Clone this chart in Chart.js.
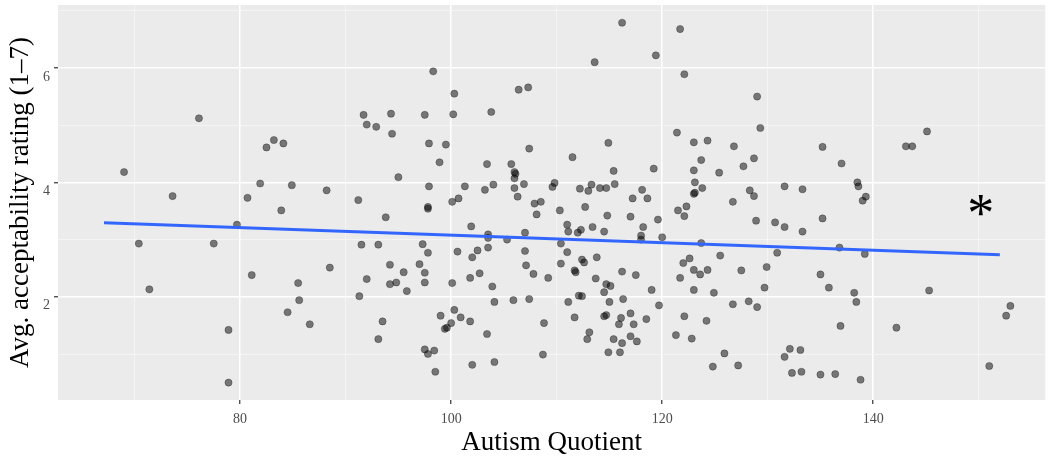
<!DOCTYPE html>
<html>
<head>
<meta charset="utf-8">
<script src="https://cdn.jsdelivr.net/npm/chart.js@4.4.1/dist/chart.umd.min.js"></script>
<style>
  html, body { margin: 0; padding: 0; background: #ffffff; }
  #wrap { width: 1050px; height: 459px; }
</style>
</head>
<body>
<div id="wrap"><canvas id="aqChart" width="1050" height="459"></canvas></div>
<script>
// Autism Quotient (x) and average acceptability rating (y), one entry per participant
const aq = [
  69.0, 76.1, 73.6, 82.5, 83.2, 84.1, 81.9, 84.9, 80.7, 88.2, 83.9, 79.7,
  70.4, 77.5, 71.4, 81.1, 88.5, 85.5, 85.6, 84.5, 86.6, 78.9, 78.9,
  116.2, 121.7, 113.6, 119.4, 122.1, 98.3, 100.3, 106.4, 107.3, 91.7, 94.3, 97.5,
  100.2, 103.8, 92.0, 92.9, 94.4, 97.9, 99.5, 107.4, 114.9, 121.4, 123.0, 111.5,
  98.9, 103.4, 105.7, 106.0, 106.1, 106.0, 95.0, 115.4, 119.2, 123.0, 123.1, 97.9,
  101.3, 104.0, 103.2, 106.0, 106.9, 106.3, 109.8, 109.6, 112.2, 113.0, 113.3, 114.1,
  114.7, 115.5, 118.1, 117.2, 118.6, 123.0, 123.1, 91.2, 93.8, 97.8, 97.8, 100.1,
  100.7, 107.9, 108.5, 108.1, 110.3, 112.7, 114.8, 117.0, 119.6, 121.5, 122.3, 122.1,
  101.9, 111.0, 112.0, 112.3, 113.4, 114.5, 118.2, 107.0, 103.5, 103.5, 105.3, 111.1,
  118.0, 118.0, 120.0, 91.5, 93.1, 97.3, 97.8, 94.2, 92.0, 94.2, 94.8, 95.5,
  95.8, 97.0, 97.5, 97.5, 91.3, 100.6, 102.0, 102.5, 103.5, 102.7, 101.8, 100.1,
  103.9, 104.1, 105.9, 107.4, 107.0, 107.1, 107.8, 109.2, 110.4, 111.0, 110.4, 112.4,
  112.6, 113.8, 111.7, 111.8, 113.7, 114.7, 115.1, 114.5, 112.1, 112.4, 111.1, 115.0,
  116.3, 116.2, 117.5, 119.0, 119.7, 100.3, 99.0, 100.9, 100.0, 99.6, 99.4, 93.5,
  93.1, 101.8, 103.4, 108.8, 111.7, 114.7, 114.5, 116.1, 117.0, 115.9, 117.3, 118.5,
  113.1, 112.9, 115.4, 116.2, 117.0, 117.6, 114.9, 116.0, 97.5, 97.8, 98.4, 98.5,
  102.0, 104.1, 108.7, 121.3, 122.8, 122.1, 121.7, 122.0, 122.6, 123.0, 123.0, 129.0,
  129.3, 124.3, 126.8, 123.7, 125.4, 127.7, 128.7, 123.8, 128.3, 128.7, 126.7, 131.6,
  133.3, 135.2, 137.0, 138.5, 138.6, 139.3, 139.0, 143.1, 143.7, 145.1, 128.9, 130.7,
  131.6, 133.3, 135.2, 123.7, 125.5, 123.6, 124.3, 127.5, 129.9, 130.9, 136.8, 139.2,
  135.0, 135.8, 129.7, 124.9, 138.2, 138.4, 126.7, 128.2, 129.0, 124.2, 136.9, 142.2,
  145.3, 153.0, 152.6, 125.9, 124.8, 127.2, 131.6, 132.1, 133.1, 132.3, 133.2, 135.0,
  136.4, 138.8, 151.0
];
const rating = [
  4.18, 5.12, 3.76, 4.61, 4.74, 4.68, 3.98, 3.95, 3.73, 3.86, 3.51, 3.26,
  2.93, 2.93, 2.13, 2.38, 2.51, 2.24, 1.94, 1.73, 1.52, 1.42, 0.50,
  6.79, 6.68, 6.10, 6.22, 5.89, 5.94, 5.55, 5.62, 5.66, 5.18, 5.20, 5.18,
  5.19, 5.23, 5.01, 4.97, 4.85, 4.68, 4.66, 4.59, 4.69, 4.87, 4.70, 4.44,
  4.35, 4.32, 4.32, 4.18, 4.15, 4.07, 4.09, 4.20, 4.24, 4.21, 4.00, 3.93,
  3.93, 3.96, 3.87, 3.90, 3.97, 3.75, 3.99, 3.92, 3.89, 3.85, 3.96, 3.90,
  3.90, 3.97, 3.87, 3.72, 3.72, 3.80, 3.82, 3.69, 3.39, 3.54, 3.57, 3.66,
  3.72, 3.63, 3.66, 3.44, 3.51, 3.57, 3.42, 3.40, 3.35, 3.51, 3.58, 3.41,
  3.23, 3.26, 3.12, 3.17, 3.22, 3.14, 3.22, 3.12, 3.09, 3.03, 3.00, 3.14,
  3.07, 3.00, 3.04, 2.91, 2.91, 2.92, 2.77, 2.56, 2.31, 2.22, 2.25, 2.43,
  2.10, 2.57, 2.42, 2.25, 2.01, 2.79, 2.69, 2.81, 2.86, 2.41, 2.33, 2.24,
  2.18, 1.91, 1.94, 1.96, 2.80, 2.55, 2.40, 2.33, 2.93, 2.78, 2.58, 2.65,
  2.60, 2.69, 2.46, 2.43, 2.32, 2.22, 2.19, 2.08, 2.02, 2.01, 1.91, 1.91,
  1.96, 2.44, 2.38, 2.12, 1.85, 1.77, 1.67, 1.64, 1.54, 1.46, 1.44, 1.57,
  1.26, 1.57, 1.35, 1.54, 1.64, 1.68, 1.66, 1.63, 1.71, 1.52, 1.52, 1.61,
  1.38, 1.26, 1.26, 1.19, 1.31, 1.22, 1.03, 1.03, 1.08, 1.00, 1.06, 0.69,
  0.81, 0.86, 0.99, 1.33, 1.27, 1.66, 2.33, 2.59, 2.67, 2.47, 2.12, 5.50,
  4.95, 4.73, 4.63, 4.39, 4.17, 4.28, 4.42, 3.90, 3.86, 3.76, 3.66, 3.93,
  3.88, 4.62, 4.33, 4.00, 3.93, 3.75, 3.68, 4.63, 4.63, 4.89, 3.33, 3.30,
  3.22, 3.14, 3.37, 2.94, 2.72, 2.39, 2.47, 2.46, 2.52, 2.77, 2.86, 2.75,
  2.39, 2.16, 2.16, 2.07, 2.07, 1.91, 1.87, 1.92, 1.82, 1.58, 1.49, 1.46,
  2.11, 1.84, 1.67, 1.01, 0.78, 0.80, 0.95, 1.09, 1.07, 0.67, 0.69, 0.64,
  0.65, 0.55, 0.79
];

// Linear fit endpoints
const fitX = [67.1, 152.0];
const fitY = [3.295, 2.735];

// Significance marker
const starX = 150.2;
const starY = 3.6;

// Ticks: labelled (major) and unlabelled (minor)
const xMajor = [80, 100, 120, 140];
const xMinor = [70, 90, 110, 130, 150];
const yMajor = [2, 4, 6];
const yMinor = [1, 3, 5, 7];

const FONT = '"Liberation Serif", "Times New Roman", serif';

const points = aq.map((v, i) => ({x: v, y: rating[i]}));
const fitLine = fitX.map((v, i) => ({x: v, y: fitY[i]}));

function isMajor(list, v) { return list.indexOf(v) !== -1; }

// ggplot-like grey panel
const panelBg = {
  id: 'panelBg',
  beforeDraw(chart) {
    const {ctx, chartArea: a} = chart;
    ctx.save();
    ctx.fillStyle = '#EBEBEB';
    ctx.fillRect(a.left, a.top, a.right - a.left, a.bottom - a.top);
    ctx.restore();
  }
};

// asterisk annotation, glyph box centred on the data position
const starLabel = {
  id: 'starLabel',
  afterDatasetsDraw(chart) {
    const {ctx, scales} = chart;
    const px = scales.x.getPixelForValue(starX);
    const py = scales.y.getPixelForValue(starY);
    ctx.save();
    ctx.font = '54px ' + FONT;
    ctx.fillStyle = '#000000';
    ctx.textAlign = 'left';
    ctx.textBaseline = 'alphabetic';
    const m = ctx.measureText('*');
    const midY = (m.actualBoundingBoxAscent - m.actualBoundingBoxDescent) / 2;
    const midX = (m.actualBoundingBoxRight - m.actualBoundingBoxLeft) / 2;
    ctx.fillText('*', px - midX, py + midY);
    ctx.restore();
  }
};

function noPad(s) {
  s.paddingTop = 0;
  s.paddingBottom = 0;
  s.paddingLeft = 0;
  s.paddingRight = 0;
}

new Chart(document.getElementById('aqChart'), {
  type: 'scatter',
  data: {
    datasets: [
      {
        type: 'line',
        data: fitLine,
        borderColor: '#3366FF',
        borderWidth: 3,
        pointRadius: 0,
        fill: false,
        order: 0
      },
      {
        data: points,
        backgroundColor: 'rgba(0, 0, 0, 0.5)',
        borderColor: 'rgba(0, 0, 0, 0.35)',
        borderWidth: 0.8,
        pointRadius: 3.6,
        order: 1
      }
    ]
  },
  options: {
    responsive: false,
    animation: false,
    devicePixelRatio: 1,
    layout: {padding: {top: 5, right: 0, bottom: 0, left: 0}},
    plugins: {
      legend: {display: false},
      tooltip: {enabled: false}
    },
    scales: {
      x: {
        type: 'linear',
        min: 62.74,
        max: 156.3,
        border: {display: false},
        afterBuildTicks: (s) => {
          s.ticks = xMinor.concat(xMajor).sort((a, b) => a - b).map(v => ({value: v}));
        },
        afterFit: (s) => { s.height = 59; noPad(s); },
        grid: {
          color: (c) => isMajor(xMajor, c.tick.value) ? '#FFFFFF' : '#F6F6F6',
          lineWidth: (c) => isMajor(xMajor, c.tick.value) ? 1.5 : 0.8,
          tickColor: (c) => isMajor(xMajor, c.tick.value) ? '#333333' : 'rgba(0,0,0,0)',
          tickWidth: 1.2,
          tickLength: 4
        },
        ticks: {
          autoSkip: false,
          maxRotation: 0,
          padding: 7,
          color: '#4D4D4D',
          font: {family: FONT, size: 14},
          callback: (v) => isMajor(xMajor, v) ? String(v) : ''
        },
        title: {
          display: true,
          text: 'Autism Quotient',
          color: '#000000',
          font: {family: FONT, size: 27, lineHeight: 1.2},
          padding: {top: 0, bottom: 0}
        }
      },
      y: {
        type: 'linear',
        min: 0.196,
        max: 7.1,
        border: {display: false},
        afterBuildTicks: (s) => {
          s.ticks = yMinor.concat(yMajor).sort((a, b) => a - b).map(v => ({value: v}));
        },
        afterFit: (s) => { s.width = 58; noPad(s); },
        grid: {
          color: (c) => isMajor(yMajor, c.tick.value) ? '#FFFFFF' : '#F6F6F6',
          lineWidth: (c) => isMajor(yMajor, c.tick.value) ? 1.5 : 0.8,
          tickColor: (c) => isMajor(yMajor, c.tick.value) ? '#333333' : 'rgba(0,0,0,0)',
          tickWidth: 1.2,
          tickLength: 4
        },
        ticks: {
          autoSkip: false,
          padding: 4,
          labelOffset: 9,
          color: '#4D4D4D',
          font: {family: FONT, size: 14},
          callback: (v) => isMajor(yMajor, v) ? String(v) : ''
        },
        title: {
          display: true,
          text: 'Avg. acceptability rating (1–7)',
          color: '#000000',
          font: {family: FONT, size: 27, lineHeight: 1.2},
          padding: {top: 5, bottom: 0}
        }
      }
    }
  },
  plugins: [panelBg, starLabel]
});
</script>
</body>
</html>
